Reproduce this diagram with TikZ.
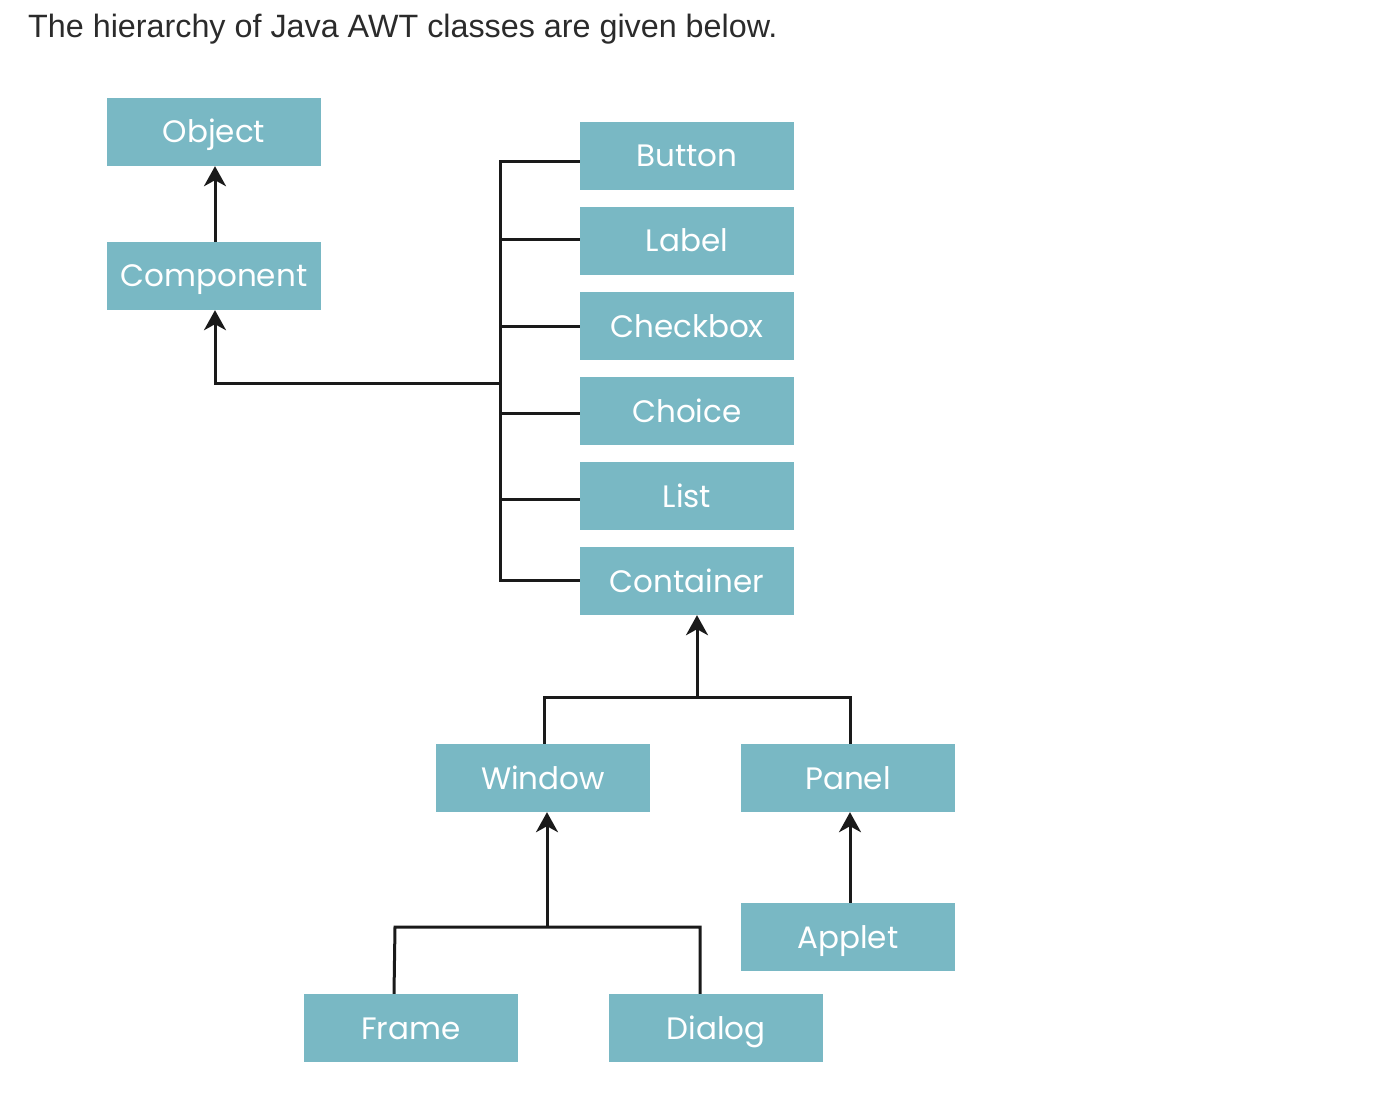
\documentclass[tikz,border=0pt]{standalone}
\usepackage{fontspec}
\setmainfont{Liberation Sans}
\newfontfamily\boxfont{Poppins}
\usetikzlibrary{arrows.meta}
\definecolor{boxcol}{HTML}{79B8C4}
\definecolor{titlecol}{HTML}{2B2B2B}
\definecolor{linecol}{HTML}{1A1A1A}
\begin{document}
\begin{tikzpicture}[x=1pt,y=-1pt,
  cls/.style={fill=boxcol,draw=none,minimum width=214pt,minimum height=68pt,inner sep=0pt,
    text height=29pt,text depth=7pt,
    text=white,font=\boxfont\fontsize{31}{36}\selectfont},
  conn/.style={draw=linecol,line width=3pt},
  arr/.style={conn,-{Stealth[length=20pt,width=22pt,inset=6pt]}}]
\useasboundingbox (0,0) rectangle (1390,1102);
\node[anchor=base west,text=titlecol,font=\fontsize{32.3}{38}\selectfont,inner sep=0pt] (title) at (28,38) {The hierarchy of Java AWT classes are given below.};
\node[cls] (object) at (214,132) {Object};
\node[cls] (component) at (214,276) {Component};
\node[cls] (button) at (687,156) {Button};
\node[cls] (label) at (687,241) {Label};
\node[cls] (checkbox) at (687,326) {Checkbox};
\node[cls] (choice) at (687,411) {Choice};
\node[cls] (list) at (687,496) {List};
\node[cls] (container) at (687,581) {Container};
\node[cls] (window) at (543,778) {Window};
\node[cls] (panel) at (848,778) {Panel};
\node[cls] (applet) at (848,937) {Applet};
\node[cls] (frame) at (411,1028) {Frame};
\node[cls] (dialog) at (716,1028) {Dialog};
\coordinate (bus) at (500,383);
\coordinate (cj) at (697,697);
\coordinate (wj) at (547,927);
% Object <- Component
\draw[arr] (component.north -| 215,0) -- (object.south -| 215,0);
% bracket
\draw[conn] (button.west |- 0,162) -- (500,162) -- (500,580) -- (container.west |- 0,580);
\draw[conn] (500,240) -- (label.west |- 0,240);
\draw[conn] (500,326) -- (checkbox.west |- 0,326);
\draw[conn] (500,413) -- (choice.west |- 0,413);
\draw[conn] (500,499) -- (list.west |- 0,499);
\draw[arr] (bus) -- (215,383) -- (component.south -| 215,0);
% Container
\draw[conn] (window.north -| 544,0) -- (544,697) -- (850,697) -- (panel.north -| 850,0);
\draw[arr] (cj) -- (container.south -| 697,0);
% Window
\draw[conn] (frame.north -| 394,0) -- (395,927) -- (700,927) -- (dialog.north -| 700,0);
\draw[arr] (wj) -- (window.south -| 547,0);
% Panel
\draw[arr] (applet.north -| 850,0) -- (panel.south -| 850,0);
\end{tikzpicture}
\end{document}
